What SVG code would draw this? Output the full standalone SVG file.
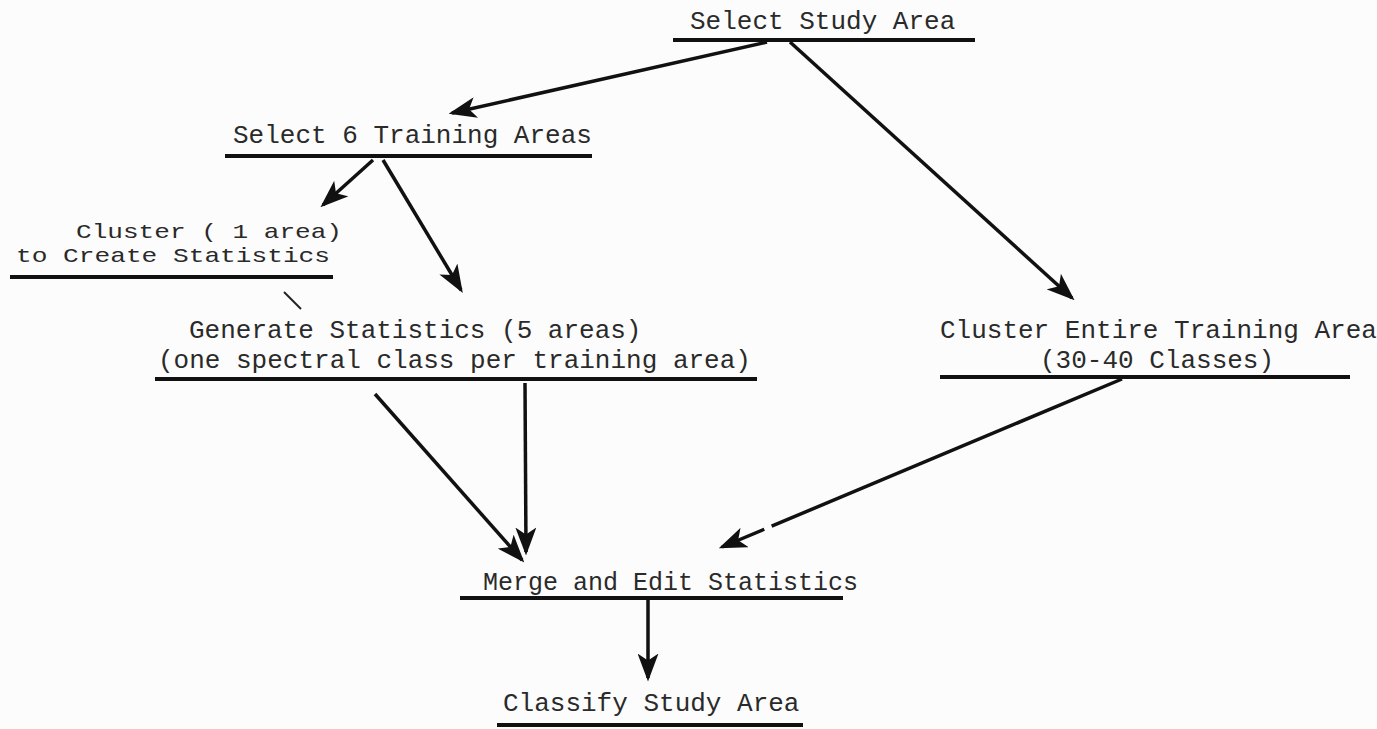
<svg xmlns="http://www.w3.org/2000/svg" width="1377" height="729" viewBox="0 0 1377 729">
<style>
text{font-family:"Liberation Mono","DejaVu Sans Mono",monospace;font-size:26px;fill:#2a2a2a}
.ul{stroke:#111;stroke-width:4;fill:none}
.c{stroke:#111;stroke-width:3.5;fill:none;marker-end:url(#ah)}
</style>
<defs>
<marker id="ah" markerWidth="8" markerHeight="6" refX="7" refY="3" orient="auto" markerUnits="strokeWidth">
<path d="M0,0 L8,3 L0,6 L2,3 Z" fill="#111"/>
</marker>
</defs>
<rect width="1377" height="729" fill="#fcfcfc"/>
<g id="n_select_study">
<text x="690" y="29">Select Study Area</text>
<line class="ul" x1="673" y1="40" x2="975" y2="40"/>
</g>
<g id="n_select_training">
<text x="233" y="143">Select 6 Training Areas</text>
<line class="ul" x1="225" y1="156" x2="592" y2="156"/>
</g>
<g id="n_cluster_one">
<text x="76" y="238" style="font-size:21px" textLength="266" lengthAdjust="spacingAndGlyphs">Cluster ( 1 area)</text>
<text x="16" y="262" style="font-size:21px" textLength="314" lengthAdjust="spacingAndGlyphs">to Create Statistics</text>
<line class="ul" x1="10" y1="277" x2="333" y2="277"/>
<line stroke="#222" stroke-width="2" x1="284" y1="292" x2="301" y2="309"/>
</g>
<g id="n_generate">
<text x="189" y="338">Generate Statistics (5 areas)</text>
<text x="158" y="368">(one spectral class per training area)</text>
<line class="ul" x1="155" y1="379" x2="757" y2="379"/>
</g>
<g id="n_cluster_entire">
<text x="940" y="338">Cluster Entire Training Area</text>
<text x="1040" y="368">(30-40 Classes)</text>
<line class="ul" x1="940" y1="377" x2="1350" y2="377"/>
</g>
<g id="n_merge">
<text x="483" y="590" style="font-size:25px">Merge and Edit Statistics</text>
<line class="ul" x1="460" y1="598" x2="843" y2="598"/>
</g>
<g id="n_classify">
<text x="503" y="711">Classify Study Area</text>
<line class="ul" x1="497" y1="725" x2="803" y2="725"/>
</g>
<g id="connectors">
<line class="c" x1="767" y1="42" x2="452" y2="113"/>
<line class="c" x1="790" y1="42" x2="1072" y2="298"/>
<line class="c" x1="373" y1="160" x2="323" y2="205"/>
<line class="c" x1="383" y1="160" x2="461" y2="290"/>
<line class="c" x1="375" y1="394" x2="522" y2="560"/>
<line class="c" x1="525" y1="383" x2="526" y2="552"/>
<line class="c" x1="1122" y1="379" x2="722" y2="547" stroke-dasharray="380 8 60"/>
<line class="c" x1="648" y1="600" x2="648" y2="678"/>
</g>
</svg>
